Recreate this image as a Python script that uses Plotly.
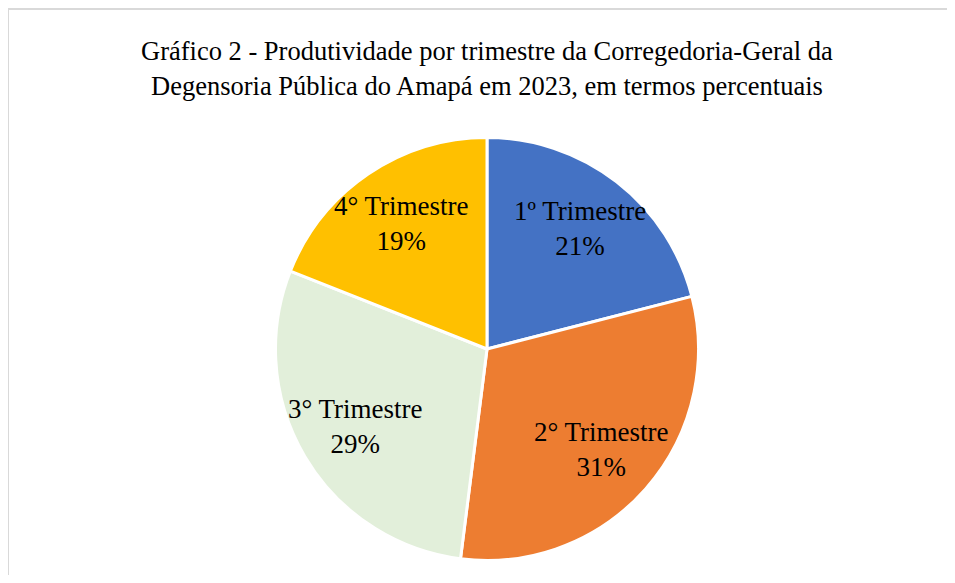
import math
import plotly.graph_objects as go

labels = ["1º Trimestre", "2° Trimestre", "3° Trimestre", "4° Trimestre"]
values = [21, 31, 29, 19]
colors = ["#4472C4", "#ED7D31", "#E2EFDA", "#FFC000"]
title_lines = ["Gráfico 2 - Produtividade por trimestre da Corregedoria-Geral da",
               "Degensoria Pública do Amapá em 2023, em termos percentuais"]

# page body has an 8px margin on every side; figure sized to fit inside the window
OFF = 8
W, H = 955 - 2 * OFF, 583 - 2 * OFF
FONT = "Liberation Serif, Times New Roman, serif"

cx, cy, R = 487 - OFF, 349 - OFF, 211.5   # pie centre / radius in figure pixels

fig = go.Figure(go.Pie(
    labels=labels, values=values, sort=False, direction="clockwise", rotation=0,
    marker=dict(colors=colors, line=dict(color="white", width=3)),
    textinfo="none",
    domain=dict(x=[(cx - R) / W, (cx + R) / W], y=[1 - (cy + R) / H, 1 - (cy - R) / H]),
    showlegend=False, hoverinfo="label+percent",
))

# data labels placed along each slice's mid angle
total = sum(values)
cum = 0
for lab, v in zip(labels, values):
    mid = (cum + v / 2) / total * 2 * math.pi
    cum += v
    rr = 0.72 * R
    px, py = cx + rr * math.sin(mid), cy - rr * math.cos(mid)
    fig.add_annotation(text=f"{lab}<br>{round(100 * v / total)}%", x=px / W, y=1 - py / H,
                       xref="paper", yref="paper", showarrow=False,
                       xanchor="center", yanchor="middle", align="center",
                       font=dict(family=FONT, size=27, color="black"))

for t, y in zip(title_lines, [51 - OFF, 86 - OFF]):
    fig.add_annotation(text=t, x=cx / W, y=1 - y / H, xref="paper", yref="paper",
                       showarrow=False, xanchor="center", yanchor="middle",
                       font=dict(family=FONT, size=26.5, color="black"))

fig.add_shape(type="line", xref="paper", yref="paper", x0=0, x1=1, y0=1 - 1 / H, y1=1 - 1 / H,
              line=dict(color="#d9d9d9", width=2))
fig.add_shape(type="line", xref="paper", yref="paper", x0=0, x1=0, y0=0, y1=1 - 1 / H,
              line=dict(color="#d9d9d9", width=2))

fig.update_layout(width=W, height=H, margin=dict(l=0, r=0, t=0, b=0),
                  paper_bgcolor="white", plot_bgcolor="white")
fig.write_html("out.html")
